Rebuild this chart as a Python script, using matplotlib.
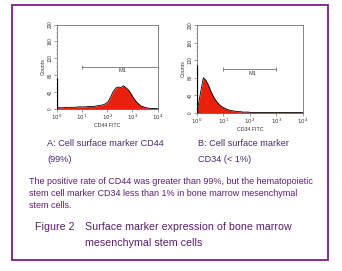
import numpy as np
import matplotlib
matplotlib.use("Agg")
import matplotlib.pyplot as plt
from matplotlib.patches import Rectangle

plt.rcParams['font.family'] = ['Liberation Sans', 'DejaVu Sans']

# ---- data ----
channel_log = np.arange(0.05, 4.0, 0.1)  # channel centres on log10 scale
cd44_counts = [3, 3, 3, 4, 3, 4, 4, 4, 5, 5,
               5, 5, 6, 6, 6, 7, 8, 9, 10, 13,
               18, 30, 42, 50, 52, 51, 55, 50, 45, 36,
               26, 18, 12, 7, 5, 3, 2, 1, 1, 1]
cd34_counts = [15, 48, 80, 74, 62, 47, 35, 26, 19, 14,
               11, 8, 6, 5, 4, 3, 3, 2, 2, 2,
               1, 1, 1, 1, 1, 1, 1, 1, 1, 1,
               1, 1, 1, 1, 1, 1, 1, 1, 1, 1]
cd44_spike = 73
cd34_spike = 110
marker_cd44 = (10, 10000, 100)
marker_cd34 = (10, 1000, 100)
yticks = [0, 40, 80, 120, 160, 200]
xticks = [1, 10, 100, 1000, 10000]
xticklabels = [r'$10^0$', r'$10^1$', r'$10^2$', r'$10^3$', r'$10^4$']

W, H = 342, 271
fig = plt.figure(figsize=(W / 100, H / 100), dpi=100)

def fx(px):
    return px / W

def fy(py):
    return 1 - py / H

def panel(rect, counts, spike, marker, xlabel):
    ax = fig.add_axes(rect)
    x = 10 ** channel_log
    xs = np.concatenate([[1.0], x, [10000.0]])
    ys = np.concatenate([[counts[0]], counts, [counts[-1]]])
    ax.fill_between(xs, 0, ys, color='#e8200c', lw=0, zorder=2)
    ax.plot(xs, ys, color='black', lw=0.6, zorder=3)
    ax.vlines(1.0, 0, spike, color='black', lw=0.9, zorder=4)
    ax.set_xscale('log')
    ax.set_xlim(1, 10000)
    ax.set_ylim(0, 200)
    ax.set_yticks(yticks)
    ax.set_yticklabels([str(v) for v in yticks], rotation=90, va='center',
                       fontsize=3.4, color='#333333')
    ax.set_yticks(np.arange(0, 201, 10), minor=True)
    ax.set_xticks(xticks)
    ax.set_xticklabels(xticklabels, fontsize=4.0, color='#333333')
    ax.tick_params(axis='both', which='major', length=2, width=0.4, pad=1,
                   color='#555555')
    ax.tick_params(axis='both', which='minor', length=1, width=0.3,
                   color='#777777')
    for s in ax.spines.values():
        s.set_linewidth(0.5)
        s.set_color('#555555')
    ax.set_xlabel(xlabel, fontsize=3.8, labelpad=0.5, color='#333333')
    ax.set_ylabel('Counts', fontsize=3.8, labelpad=1, color='#333333')
    x0, x1, ym = marker
    ax.hlines(ym, x0, x1, color='#555555', lw=0.5, zorder=5)
    ax.vlines([x0, x1], ym - 5, ym + 5, color='#555555', lw=0.5, zorder=5)
    ax.text(np.sqrt(x0 * x1) * 1.25, ym - 4, 'M1', fontsize=4.0, ha='center',
            va='top', color='#333333')
    return ax

panel([fx(56.7), fy(109), fx(157.5) - fx(56.7), fy(24.5) - fy(109)],
      cd44_counts, cd44_spike, marker_cd44, 'CD44 FITC')
panel([fx(196.7), fy(113), fx(303) - fx(196.7), fy(25) - fy(113)],
      cd34_counts, cd34_spike, marker_cd34, 'CD34 FITC')

# frame
fig.patches.append(Rectangle((fx(12), fy(260)), fx(328) - fx(12), fy(5) - fy(260),
                             transform=fig.transFigure, fill=False,
                             edgecolor='#7a1f86', lw=1.3))

lab_col = '#4b2a68'
txt_col = '#5e2070'
fs_lab = 6.6
fig.text(fx(47), fy(143), 'A: Cell surface marker CD44', fontsize=fs_lab,
         color=lab_col, va='center')
fig.text(fx(47), fy(160), '(99%)', fontsize=fs_lab, color=lab_col, va='center')
fig.text(fx(198), fy(143), 'B: Cell surface marker', fontsize=fs_lab,
         color=lab_col, va='center')
fig.text(fx(198), fy(160), 'CD34 (< 1%)', fontsize=fs_lab, color=lab_col,
         va='center')

para = ['The positive rate of CD44 was greater than 99%, but the hematopoietic',
        'stem cell marker CD34 less than 1% in bone marrow mesenchymal',
        'stem cells.']
for i, line in enumerate(para):
    fig.text(fx(29), fy(181 + 12 * i), line, fontsize=6.5, color=txt_col,
             va='center')

cap_col = '#5a1e6c'
fs_cap = 7.7
fig.text(fx(35), fy(227), 'Figure 2', fontsize=fs_cap, color=cap_col, va='center')
fig.text(fx(85), fy(227), 'Surface marker expression of bone marrow',
         fontsize=fs_cap, color=cap_col, va='center')
fig.text(fx(85), fy(243), 'mesenchymal stem cells', fontsize=fs_cap,
         color=cap_col, va='center')

fig.savefig('out.png', dpi=100)
